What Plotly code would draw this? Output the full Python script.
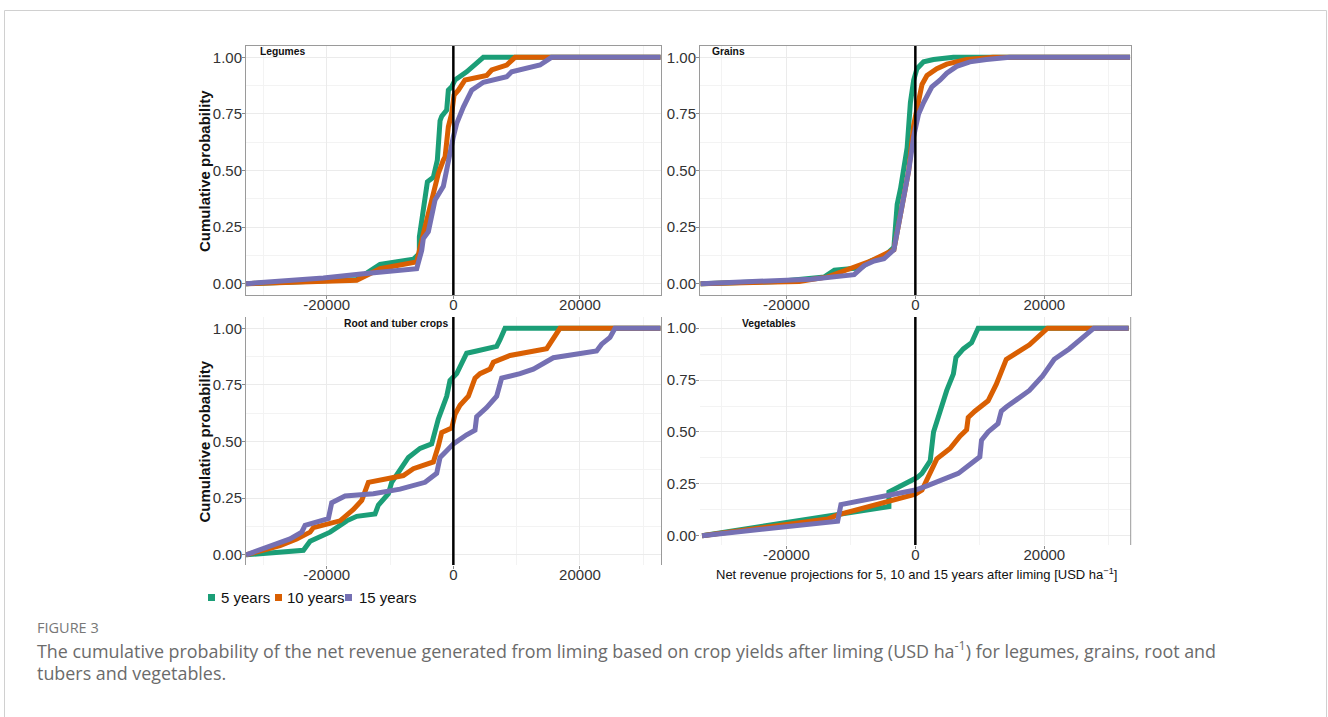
import plotly.graph_objects as go

W, H = 1328, 717

# ---------------- data ----------------
series_names = ["5 years", "10 years", "15 years"]
series_colors = ["#1B9E77", "#D95F02", "#7570B3"]

# Legumes
legumes_5_x = [-32740, -15260, -11580, -6320, -5370, -5370, -4100, -3160, -2530, -2100, -1830, -1050, -790, -260, 270, 2100, 4740, 32740]
legumes_5_y = [0.0, 0.018, 0.085, 0.108, 0.133, 0.206, 0.45, 0.47, 0.546, 0.72, 0.74, 0.767, 0.855, 0.87, 0.90, 0.936, 1.0, 1.0]
legumes_10_x = [-32740, -15260, -11580, -5790, -4740, -3420, -2370, -1580, -1310, -790, -260, 110, 790, 1840, 5270, 6060, 8430, 9740, 32740]
legumes_10_y = [0.0, 0.015, 0.066, 0.096, 0.22, 0.38, 0.487, 0.546, 0.56, 0.693, 0.752, 0.833, 0.855, 0.90, 0.92, 0.944, 0.966, 1.0, 1.0]
legumes_15_x = [-32740, -20530, -14210, -5790, -5000, -4740, -3950, -2890, -1580, -790, 0, 530, 1580, 2900, 4740, 8430, 9210, 13690, 15500, 32740]
legumes_15_y = [0.0, 0.025, 0.044, 0.066, 0.147, 0.20, 0.23, 0.37, 0.43, 0.546, 0.649, 0.708, 0.78, 0.855, 0.89, 0.914, 0.936, 0.966, 1.0, 1.0]

# Grains
grains_5_x = [-33300, -21280, -14100, -12560, -8460, -6920, -4870, -3330, -2820, -2300, -1280, -770, -256, 256, 1280, 2820, 5900, 33300]
grains_5_y = [0.0, 0.01, 0.03, 0.06, 0.07, 0.10, 0.12, 0.16, 0.35, 0.42, 0.60, 0.80, 0.90, 0.95, 0.98, 0.99, 1.0, 1.0]
grains_10_x = [-33300, -18000, -13590, -10500, -6920, -3330, -2300, -1030, -260, 500, 1030, 1800, 3330, 4870, 7950, 12050, 33300]
grains_10_y = [0.0, 0.01, 0.03, 0.06, 0.10, 0.15, 0.30, 0.50, 0.70, 0.80, 0.88, 0.92, 0.95, 0.97, 0.99, 1.0, 1.0]
grains_15_x = [-33300, -16150, -9490, -7950, -6410, -4870, -3330, -2300, -1030, -260, 500, 1280, 2560, 3850, 4870, 6410, 8460, 11030, 14620, 33300]
grains_15_y = [0.0, 0.02, 0.04, 0.08, 0.10, 0.11, 0.15, 0.30, 0.50, 0.65, 0.75, 0.80, 0.87, 0.90, 0.93, 0.96, 0.98, 0.99, 1.0, 1.0]

# Root and tuber crops
root_5_x = [-32740, -28420, -23680, -22630, -19470, -16840, -15260, -12370, -11840, -10260, -9740, -7100, -5260, -3420, -2900, -2370, -1050, -530, 530, 1320, 2100, 3680, 6840, 7370, 8160, 32740]
root_5_y = [0.0, 0.01, 0.02, 0.06, 0.10, 0.15, 0.17, 0.18, 0.22, 0.27, 0.32, 0.43, 0.47, 0.49, 0.55, 0.60, 0.70, 0.77, 0.80, 0.84, 0.89, 0.90, 0.92, 0.95, 1.0, 1.0]
root_10_x = [-32740, -27370, -24740, -22630, -22100, -17900, -15790, -14470, -13420, -11580, -7900, -6320, -3160, -2370, -1840, -260, 260, 1050, 2370, 3420, 4210, 5790, 6320, 8950, 12630, 14740, 16840, 32740]
root_10_y = [0.0, 0.04, 0.07, 0.10, 0.12, 0.15, 0.20, 0.24, 0.32, 0.33, 0.35, 0.38, 0.41, 0.48, 0.54, 0.56, 0.62, 0.66, 0.70, 0.78, 0.80, 0.82, 0.85, 0.88, 0.90, 0.91, 1.0, 1.0]
root_15_x = [-32740, -28420, -25790, -23950, -23420, -19740, -19210, -17100, -12630, -8420, -4470, -2630, -2100, -1050, 0, 2100, 3420, 3680, 5260, 6840, 7630, 10530, 12630, 15790, 22630, 23420, 24740, 25530, 32740]
root_15_y = [0.0, 0.04, 0.07, 0.10, 0.13, 0.16, 0.23, 0.26, 0.27, 0.29, 0.32, 0.36, 0.43, 0.46, 0.49, 0.53, 0.55, 0.61, 0.65, 0.70, 0.78, 0.80, 0.82, 0.87, 0.90, 0.93, 0.96, 1.0, 1.0]

# Vegetables
veg_5_x = [-33080, -12560, -4100, -4100, 256, 1030, 2300, 2820, 3850, 4870, 5900, 6300, 7440, 8720, 9740, 33080]
veg_5_y = [0.0, 0.10, 0.14, 0.21, 0.28, 0.30, 0.36, 0.50, 0.60, 0.70, 0.78, 0.86, 0.90, 0.93, 1.0, 1.0]
veg_10_x = [-33080, -13590, -12050, -3330, 0, 1030, 2300, 3330, 5380, 6920, 7950, 8200, 9230, 11280, 12560, 14100, 17690, 20510, 33080]
veg_10_y = [0.0, 0.08, 0.10, 0.17, 0.20, 0.22, 0.30, 0.37, 0.42, 0.48, 0.51, 0.57, 0.60, 0.65, 0.73, 0.85, 0.92, 1.0, 1.0]
veg_15_x = [-33080, -12050, -11540, -3330, 0, 1800, 6670, 10000, 10260, 11280, 12820, 13330, 14100, 17690, 19740, 21540, 23850, 27690, 33080]
veg_15_y = [0.0, 0.07, 0.15, 0.20, 0.22, 0.24, 0.30, 0.38, 0.46, 0.50, 0.54, 0.60, 0.62, 0.70, 0.77, 0.85, 0.90, 1.0, 1.0]

panel_titles = ["Legumes", "Grains", "Root and tuber crops", "Vegetables"]
x_ticks = [-20000, 0, 20000]
y_ticks = [0.0, 0.25, 0.5, 0.75, 1.0]
y_title = "Cumulative probability"
x_title = "Net revenue projections for 5, 10 and 15 years after liming [USD ha<sup>−1</sup>]"
fig_label = "FIGURE 3"
caption_1 = "The cumulative probability of the net revenue generated from liming based on crop yields after liming (USD ha<sup>-1</sup>) for legumes, grains, root and"
caption_2 = "tubers and vegetables."

panels = [
    [(legumes_5_x, legumes_5_y), (legumes_10_x, legumes_10_y), (legumes_15_x, legumes_15_y)],
    [(grains_5_x, grains_5_y), (grains_10_x, grains_10_y), (grains_15_x, grains_15_y)],
    [(root_5_x, root_5_y), (root_10_x, root_10_y), (root_15_x, root_15_y)],
    [(veg_5_x, veg_5_y), (veg_10_x, veg_10_y), (veg_15_x, veg_15_y)],
]

# ---------------- layout helpers ----------------
def PX(x):
    return x / W

def PY(y):
    return 1 - y / H

# pixel boxes: (left, top, right, bottom)
boxes = [
    (246, 46, 660.7, 295),
    (700, 46, 1130.7, 295),
    (246, 317, 660.7, 565),
    (700, 317, 1130.7, 545),
]
x_ranges = [[-32750, 32750], [-33400, 33400], [-32750, 32750], [-33400, 33400]]
y_ranges = [[-0.05, 1.05], [-0.05, 1.05], [-0.045, 1.05], [-0.045, 1.054]]

fig = go.Figure()
FONT = "Liberation Sans, Arial, sans-serif"

for i, panel in enumerate(panels):
    ax = "" if i == 0 else str(i + 1)
    for (xs, ys), name, col in zip(panel, series_names, series_colors):
        fig.add_trace(go.Scatter(
            x=xs, y=ys, mode="lines", name=name, showlegend=False,
            line=dict(color=col, width=5),
            xaxis="x" + ax, yaxis="y" + ax, hoverinfo="skip",
        ))

layout = dict(
    width=W, height=H,
    margin=dict(l=0, r=0, t=0, b=0),
    paper_bgcolor="white", plot_bgcolor="white",
    showlegend=False,
    font=dict(family=FONT, color="#333333"),
)

shapes = []
annotations = []
for i, (l, t, r, b) in enumerate(boxes):
    ax = "" if i == 0 else str(i + 1)
    top_row = i < 2
    layout["xaxis" + ax] = dict(
        domain=[PX(l), PX(r)], range=x_ranges[i], anchor="y" + ax,
        tickvals=x_ticks, ticktext=[str(v) for v in x_ticks],
        tickfont=dict(size=15, color="#333333", family=FONT),
        ticks="outside", ticklen=3, tickcolor="#8a8a8a", tickwidth=1,
        ticklabelstandoff=-7,
        showgrid=True, gridcolor="#EBEBEB", gridwidth=1,
        minor=dict(dtick=10000, tick0=0, showgrid=True, gridcolor="#F3F3F3", gridwidth=0.6, ticks=""),
        zeroline=False,
        showline=top_row, linecolor="#9a9a9a", linewidth=1, mirror=top_row,
        fixedrange=True,
    )
    layout["yaxis" + ax] = dict(
        domain=[PY(b), PY(t)], range=y_ranges[i], anchor="x" + ax,
        tickvals=y_ticks, ticktext=["%.2f" % v for v in y_ticks],
        tickfont=dict(size=15, color="#333333", family=FONT),
        ticks="outside", ticklen=3, tickcolor="#8a8a8a", tickwidth=1,
        ticklabelstandoff=-3,
        showgrid=True, gridcolor="#EBEBEB", gridwidth=1,
        minor=dict(dtick=0.125, tick0=0, showgrid=True, gridcolor="#F3F3F3", gridwidth=0.6, ticks=""),
        zeroline=False,
        showline=True if i != 3 else False, linecolor="#9a9a9a", linewidth=1, mirror=True,
        fixedrange=True,
    )
    # vertical line at zero
    shapes.append(dict(type="line", xref="x" + ax, yref="y" + ax + " domain",
                       x0=0, x1=0, y0=0, y1=1, line=dict(color="black", width=2.5), layer="above"))

# right border for bottom-right panel
shapes.append(dict(type="line", xref="paper", yref="paper",
                   x0=PX(1130.7), x1=PX(1130.7), y0=PY(545), y1=PY(317),
                   line=dict(color="#9a9a9a", width=1)))

# panel titles
title_pos = [(258, 51.5), (710, 51.5), (342, 323), (740, 323)]
for txt, (x, y) in zip(panel_titles, title_pos):
    annotations.append(dict(text="<b>%s</b>" % txt, x=PX(x), y=PY(y), xref="paper", yref="paper",
                            xanchor="left", yanchor="middle", showarrow=False,
                            font=dict(size=10.3, color="#111111", family=FONT)))

# y axis titles
for yc in [171, 441.5]:
    annotations.append(dict(text="<b>%s</b>" % y_title, x=PX(204), y=PY(yc), xref="paper", yref="paper",
                            xanchor="center", yanchor="middle", textangle=-90, showarrow=False,
                            font=dict(size=15, color="#111111", family=FONT)))

# x axis title (bottom-right)
annotations.append(dict(text=x_title, x=PX(916.5), y=PY(574), xref="paper", yref="paper",
                        xanchor="center", yanchor="middle", showarrow=False,
                        font=dict(size=13, color="#111111", family=FONT)))

# custom legend
leg_sq = [208, 275, 345]
leg_tx = [219, 285, 357]
for name, col, sx, tx in zip(series_names, series_colors, leg_sq, leg_tx):
    shapes.append(dict(type="rect", xref="paper", yref="paper",
                       x0=PX(sx), x1=PX(sx + 7), y0=PY(601), y1=PY(594),
                       fillcolor=col, line=dict(width=0)))
    annotations.append(dict(text=name, x=PX(tx), y=PY(597.5), xref="paper", yref="paper",
                            xanchor="left", yanchor="middle", showarrow=False,
                            font=dict(size=15, color="#111111", family=FONT)))

# caption
CAP_FONT = "Open Sans, Lato, sans-serif"
annotations.append(dict(text=fig_label, x=PX(35), y=PY(627), xref="paper", yref="paper",
                        xanchor="left", yanchor="middle", showarrow=False,
                        font=dict(size=14.5, color="#777777", family=CAP_FONT)))
annotations.append(dict(text=caption_1, x=PX(35), y=PY(650), xref="paper", yref="paper",
                        xanchor="left", yanchor="middle", showarrow=False,
                        font=dict(size=17.9, color="#6b6b6b", family=CAP_FONT)))
annotations.append(dict(text=caption_2, x=PX(35), y=PY(673), xref="paper", yref="paper",
                        xanchor="left", yanchor="middle", showarrow=False,
                        font=dict(size=17.9, color="#6b6b6b", family=CAP_FONT)))

# outer frame
shapes.append(dict(type="line", xref="paper", yref="paper", x0=PX(4.5), x1=PX(4.5), y0=0, y1=PY(10.5),
                   line=dict(color="#d0d0d0", width=1)))
shapes.append(dict(type="line", xref="paper", yref="paper", x0=PX(4.5), x1=PX(1326.5), y0=PY(10.5), y1=PY(10.5),
                   line=dict(color="#d0d0d0", width=1)))
shapes.append(dict(type="line", xref="paper", yref="paper", x0=PX(1326.5), x1=PX(1326.5), y0=0, y1=PY(10.5),
                   line=dict(color="#d0d0d0", width=1)))

layout["shapes"] = shapes
layout["annotations"] = annotations
fig.update_layout(**layout)

fig.write_html(
    "out.html",
    config={"displayModeBar": False},
    post_script="document.body.style.margin='0';document.body.style.padding='0';document.body.style.overflow='hidden';",
)
